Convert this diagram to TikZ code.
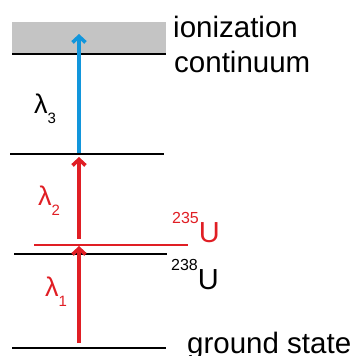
\documentclass[tikz,border=0pt]{standalone}
\usepackage{fontspec}
\setmainfont{Liberation Sans}
\usetikzlibrary{arrows.meta}
\definecolor{lred}{RGB}{224,30,36}
\definecolor{lblue}{RGB}{18,150,220}
\definecolor{cont}{RGB}{196,196,196}
\tikzset{
  level/.style={line width=2.4pt},
  trans/.style={line width=3.6pt, -{Straight Barb[length=6pt,width=13pt]}},
  big/.style={inner sep=0pt, font=\fontsize{29.5}{35}\selectfont},
  lam/.style={inner sep=0pt, font=\fontsize{27}{27}\selectfont},
  iso/.style={inner sep=0pt, font=\fontsize{29}{29}\selectfont},
}
\newcommand{\sbs}[1]{\raisebox{-10pt}{\fontsize{15}{15}\selectfont #1}}
\newcommand{\sps}[1]{\raisebox{19pt}{\fontsize{16}{16}\selectfont #1}}
\begin{document}
\begin{tikzpicture}[x=1pt,y=-1pt]
\useasboundingbox (0,0) rectangle (355,356);
% continuum
\fill[cont] (12,22) rectangle (166,54);
\draw[level] (12,54) -- (166,54);
% levels
\draw[level] (10,154) -- (164,154);
\draw[level, lred] (34,245) -- (188,245);
\draw[level] (14,254) -- (167,254);
\draw[level] (12,348) -- (166,348);
% arrow coordinates
\coordinate (g) at (79,343);
\coordinate (e1) at (79,246);
\coordinate (s2) at (79,239);
\coordinate (e2) at (79,157);
\coordinate (s3) at (79,153);
\coordinate (e3) at (79,34);
\draw[trans, lred] (g) -- (e1);
\draw[trans, lred] (s2) -- (e2);
\draw[trans, lblue] (s3) -- (e3);
% labels
\node[big, anchor=base west] (ion) at (173,37) {ionization};
\node[big, anchor=base west] (con) at (174,72) {continuum};
\node[big, anchor=base west] (gs) at (187,353) {ground state};
\node[lam, anchor=base west] (l3) at (34,113) {λ\sbs{3}};
\node[lam, anchor=base west, text=lred] (l2) at (38,205) {λ\sbs{2}};
\node[lam, anchor=base west, text=lred] (l1) at (45,296) {λ\sbs{1}};
\node[iso, anchor=base west, text=lred] (u235) at (172,242) {\sps{235}U};
\node[iso, anchor=base west] (u238) at (171,289) {\sps{238}U};
\end{tikzpicture}
\end{document}
